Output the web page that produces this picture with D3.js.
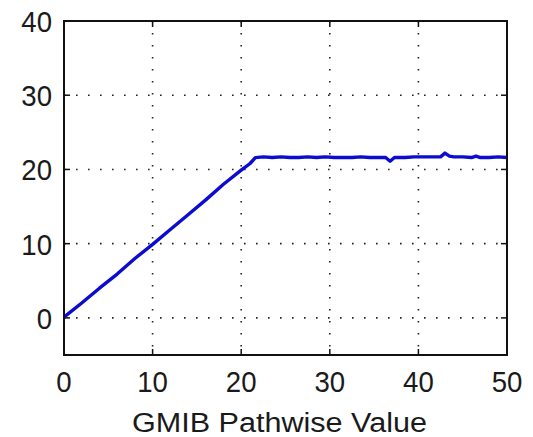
<!DOCTYPE html>
<html>
<head>
<meta charset="utf-8">
<script src="https://cdn.jsdelivr.net/npm/d3@7"></script>
<style>
  body { margin: 0; background: #fff; }
  text { font-family: "Liberation Sans", Arial, sans-serif; fill: #1a1a1a; }
</style>
</head>
<body>
<svg id="chart" width="533" height="437"></svg>
<script>
// values
const xValues = [0, 2, 4, 6, 8, 10, 12, 14, 16, 18, 20, 21, 21.6,
  22.5, 23.5, 24.5, 25.5, 26.5, 27.5, 28.5, 29.5, 30.5, 31.5, 32.5, 33.5, 34.5, 35.5, 36.3, 36.8, 37.3,
  38.5, 39.5, 40.5, 41.5, 42.5, 43.0, 43.5, 44.0, 45, 46, 46.5, 47, 48, 49, 50];
const yValues = [0.1, 2.0, 4.0, 5.9, 8.0, 9.9, 11.9, 13.9, 15.9, 18.0, 19.9, 20.8, 21.6,
  21.7, 21.6, 21.7, 21.6, 21.6, 21.7, 21.6, 21.7, 21.6, 21.6, 21.6, 21.7, 21.6, 21.6, 21.6, 21.1, 21.6,
  21.6, 21.7, 21.7, 21.7, 21.7, 22.2, 21.8, 21.7, 21.7, 21.6, 21.8, 21.6, 21.6, 21.7, 21.6];
const xTicks = [0, 10, 20, 30, 40, 50];
const yTicks = [0, 10, 20, 30, 40];
const xLabel = "GMIB Pathwise Value";

const svg = d3.select("#chart");
const plotL = 64, plotR = 507, plotT = 21, plotB = 355;

const x = d3.scaleLinear().domain([0, 50]).range([plotL, plotR]);
const y = d3.scaleLinear().domain([-5, 40]).range([plotB, plotT]);

// dotted grid
const grid = svg.append("g")
  .attr("stroke", "#222")
  .attr("stroke-width", 1.6)
  .attr("stroke-dasharray", "1.6,10.4");
grid.selectAll(".gx").data(xTicks.slice(1, -1)).join("line")
  .attr("x1", d => x(d)).attr("x2", d => x(d))
  .attr("y1", plotT).attr("y2", plotB);
grid.selectAll(".gy").data(yTicks.slice(0, -1)).join("line")
  .attr("x1", plotL).attr("x2", plotR)
  .attr("y1", d => y(d)).attr("y2", d => y(d));

// inward ticks on all sides
const tk = 6;
const ticks = svg.append("g").attr("stroke", "#111").attr("stroke-width", 1.5);
xTicks.forEach(d => {
  ticks.append("line").attr("x1", x(d)).attr("x2", x(d)).attr("y1", plotB).attr("y2", plotB - tk);
  ticks.append("line").attr("x1", x(d)).attr("x2", x(d)).attr("y1", plotT).attr("y2", plotT + tk);
});
yTicks.forEach(d => {
  ticks.append("line").attr("x1", plotL).attr("x2", plotL + tk).attr("y1", y(d)).attr("y2", y(d));
  ticks.append("line").attr("x1", plotR).attr("x2", plotR - tk).attr("y1", y(d)).attr("y2", y(d));
});

// data line
const pts = xValues.map((v, i) => [v, yValues[i]]);
svg.append("path")
  .datum(pts)
  .attr("fill", "none")
  .attr("stroke", "#0c0cd0")
  .attr("stroke-width", 3.4)
  .attr("stroke-linejoin", "round")
  .attr("d", d3.line().x(d => x(d[0])).y(d => y(d[1])));

// frame
svg.append("rect")
  .attr("x", plotL).attr("y", plotT)
  .attr("width", plotR - plotL).attr("height", plotB - plotT)
  .attr("fill", "none").attr("stroke", "#111").attr("stroke-width", 2);

// tick labels
svg.append("g").selectAll("text").data(xTicks).join("text")
  .attr("x", d => x(d)).attr("y", 392)
  .attr("text-anchor", "middle")
  .attr("font-size", 30)
  .attr("transform", d => `translate(${x(d)},0) scale(0.92,1) translate(${-x(d)},0)`)
  .text(d => d);
svg.append("g").selectAll("text").data(yTicks).join("text")
  .attr("x", 52).attr("y", d => y(d) + 11)
  .attr("text-anchor", "end")
  .attr("font-size", 30)
  .attr("transform", "translate(52,0) scale(0.92,1) translate(-52,0)")
  .text(d => d);

// axis label
svg.append("text")
  .attr("x", 132).attr("y", 432)
  .attr("font-size", 27)
  .attr("textLength", 295)
  .attr("lengthAdjust", "spacingAndGlyphs")
  .text(xLabel);
</script>
</body>
</html>
